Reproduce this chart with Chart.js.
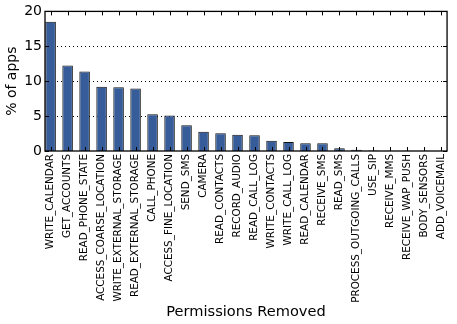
<!DOCTYPE html>
<html>
<head>
<meta charset="utf-8">
<script src="https://cdn.jsdelivr.net/npm/chart.js@4"></script>
<style>
  html, body { margin: 0; padding: 0; background: #fff; }
  #wrap { width: 457px; height: 324px; }
</style>
</head>
<body>
<div id="wrap"><canvas id="chart"></canvas></div>
<script>
const permissions = [
  'WRITE_CALENDAR', 'GET_ACCOUNTS', 'READ_PHONE_STATE', 'ACCESS_COARSE_LOCATION',
  'WRITE_EXTERNAL_STORAGE', 'READ_EXTERNAL_STORAGE', 'CALL_PHONE', 'ACCESS_FINE_LOCATION',
  'SEND_SMS', 'CAMERA', 'READ_CONTACTS', 'RECORD_AUDIO', 'READ_CALL_LOG',
  'WRITE_CONTACTS', 'WRITE_CALL_LOG', 'READ_CALENDAR', 'RECEIVE_SMS', 'READ_SMS',
  'PROCESS_OUTGOING_CALLS', 'USE_SIP', 'RECEIVE_MMS', 'RECEIVE_WAP_PUSH',
  'BODY_SENSORS', 'ADD_VOICEMAIL'
];
const pctApps = [
  18.5, 12.25, 11.4, 9.2, 9.15, 8.95, 5.25, 5.1,
  3.7, 2.75, 2.55, 2.33, 2.24,
  1.48, 1.29, 1.1, 1.1, 0.38,
  0.17, 0.08, 0.04, 0.03,
  0.02, 0.01
];
const yTicks = [0, 5, 10, 15, 20];

const font = "'DejaVu Sans', sans-serif";

// dotted grid behind bars, then frame and inward ticks on top (matplotlib look)
const frame = {
  id: 'frame',
  beforeDatasetsDraw(chart) {
    const ctx = chart.ctx;
    const a = chart.chartArea;
    const ys = chart.scales.y;
    ctx.save();
    ctx.strokeStyle = '#000';
    ctx.lineWidth = 1;
    ctx.setLineDash([1, 3]);
    ctx.beginPath();
    yTicks.slice(1, -1).forEach(v => {
      const py = Math.round(ys.getPixelForValue(v)) + 0.5;
      ctx.moveTo(a.left, py); ctx.lineTo(a.right, py);
    });
    ctx.stroke();
    ctx.restore();
  },
  afterDraw(chart) {
    const ctx = chart.ctx;
    const a = chart.chartArea;
    const xs = chart.scales.x, ys = chart.scales.y;
    ctx.save();
    ctx.strokeStyle = '#000';
    ctx.lineWidth = 1;
    ctx.beginPath();
    xs.ticks.forEach((t, i) => {
      const px = Math.round(xs.getPixelForTick(i)) + 0.5;
      ctx.moveTo(px, a.top); ctx.lineTo(px, a.top + 4);
      ctx.moveTo(px, a.bottom); ctx.lineTo(px, a.bottom - 4);
    });
    ys.ticks.forEach((t, i) => {
      const py = Math.round(ys.getPixelForTick(i)) + 0.5;
      ctx.moveTo(a.left, py); ctx.lineTo(a.left + 4, py);
      ctx.moveTo(a.right, py); ctx.lineTo(a.right - 4, py);
    });
    ctx.stroke();
    ctx.lineWidth = 1.3;
    ctx.strokeRect(a.left, a.top, a.right - a.left, a.bottom - a.top);
    ctx.restore();
  }
};

new Chart(document.getElementById('chart'), {
  type: 'bar',
  data: {
    labels: permissions,
    datasets: [{
      data: pctApps,
      backgroundColor: '#365d9a',
      borderColor: '#111',
      borderWidth: 1,
      categoryPercentage: 1,
      barPercentage: 0.62
    }]
  },
  options: {
    responsive: true,
    maintainAspectRatio: false,
    animation: false,
    layout: { padding: { top: 11, right: 5, left: 0, bottom: 0 } },
    plugins: { legend: { display: false }, tooltip: { enabled: false } },
    scales: {
      x: {
        offset: false,
        afterBuildTicks(scale) {
          // small margin either side of first/last bar, like matplotlib's xlim
          scale._startValue = -0.33;
          scale._valueRange = permissions.length - 1 + 0.66;
        },
        afterFit(scale) { scale.height = 173; },
        grid: { display: false, drawTicks: false },
        border: { display: false },
        ticks: {
          autoSkip: false,
          minRotation: 90,
          maxRotation: 90,
          padding: 3,
          color: '#000',
          font: { family: font, size: 10.4 }
        },
        title: {
          display: true,
          text: 'Permissions Removed',
          color: '#000',
          font: { family: font, size: 14.6 },
          padding: { top: 0, bottom: 3 }
        }
      },
      y: {
        min: 0,
        max: 20,
        afterBuildTicks(scale) { scale.ticks = yTicks.map(v => ({ value: v })); },
        afterFit(scale) { scale.width = 45; },
        grid: { display: false, drawTicks: false },
        border: { display: false },
        ticks: {
          padding: 3,
          color: '#000',
          font: { family: font, size: 14 }
        },
        title: {
          display: true,
          text: '% of apps',
          color: '#000',
          font: { family: font, size: 14 },
          padding: { top: 4, bottom: 0 }
        }
      }
    }
  },
  plugins: [frame]
});
</script>
</body>
</html>
